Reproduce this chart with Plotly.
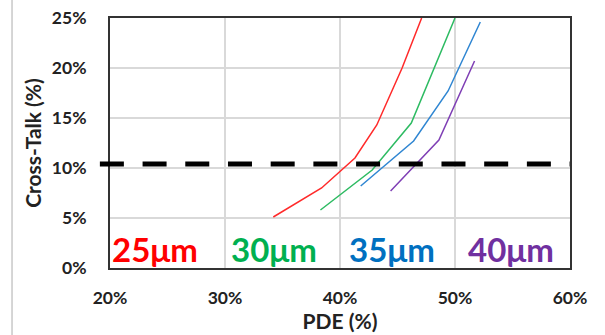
import plotly.graph_objects as go

# Photon detection efficiency (%) vs optical cross-talk (%) per cell pitch
pde_25um = [34.2, 38.4, 41.3, 43.2, 45.4, 47.1]
ct_25um = [5.1, 8.0, 11.0, 14.3, 20.0, 25.0]

pde_30um = [38.3, 42.8, 46.2, 50.0]
ct_30um = [5.8, 9.8, 14.5, 25.0]

pde_35um = [41.8, 46.4, 49.4, 52.2]
ct_35um = [8.2, 12.7, 17.7, 24.6]

pde_40um = [44.4, 48.6, 51.7]
ct_40um = [7.7, 12.8, 20.7]

pitch_labels = ["25μm", "30μm", "35μm", "40μm"]
line_colors = ["#FF2A2A", "#2DBB62", "#2F86D2", "#7F3FB5"]
text_colors = ["#FF0000", "#00B050", "#0070C0", "#7030A0"]

# cross-talk limit drawn as the dashed threshold
CT_LIMIT = 10.4

x_ticks = [20, 30, 40, 50, 60]
y_ticks = [0, 5, 10, 15, 20, 25]

series = [
    (pde_25um, ct_25um),
    (pde_30um, ct_30um),
    (pde_35um, ct_35um),
    (pde_40um, ct_40um),
]

fig = go.Figure()
for (xs, ys), name, col in zip(series, pitch_labels, line_colors):
    fig.add_trace(go.Scatter(
        x=xs, y=ys, mode="lines", name=name,
        line=dict(color=col, width=1.5),
        showlegend=False,
    ))

font_family = "Lato, 'Open Sans', sans-serif"

# pitch labels along the bottom of the plot
label_x = [23.9, 34.3, 44.5, 54.9]
for txt, xc, col in zip(pitch_labels, label_x, text_colors):
    fig.add_annotation(
        x=xc, y=1.9, xref="x", yref="y", text=f"<b>{txt}</b>",
        showarrow=False, xanchor="center", yanchor="middle",
        font=dict(family=font_family, size=33, color=col),
    )

# dashed cross-talk limit
fig.add_shape(
    type="line", xref="paper", yref="y",
    x0=-0.022, x1=1.0, y0=CT_LIMIT, y1=CT_LIMIT,
    line=dict(color="black", width=5, dash="24px,18.7px"),
    layer="above",
)

# thin frame line at the left edge of the slide
fig.add_shape(
    type="line", xref="paper", yref="paper",
    x0=-0.213, x1=-0.213, y0=-0.27, y1=1.08,
    line=dict(color="#C8C8C8", width=1.5),
)

fig.update_xaxes(
    range=[20, 60], tickvals=x_ticks, ticktext=[f"<b>{v}%</b>" for v in x_ticks],
    showgrid=True, gridcolor="#D9D9D9", gridwidth=1.5,
    showline=True, linecolor="#333333", linewidth=2, mirror=True,
    zeroline=False, ticks="", ticklabelstandoff=13, automargin=False,
    tickfont=dict(family=font_family, size=17.5, color="#222222"),
    title=dict(text="<b>PDE (%)</b>", standoff=5,
               font=dict(family=font_family, size=21, color="#222222")),
)
fig.update_yaxes(
    range=[0, 25], tickvals=y_ticks, ticktext=[f"<b>{v}%</b>" for v in y_ticks],
    showgrid=True, gridcolor="#D9D9D9", gridwidth=1.5,
    showline=True, linecolor="#333333", linewidth=2, mirror=True,
    zeroline=False, ticks="", ticklabelstandoff=18, automargin=False,
    tickfont=dict(family=font_family, size=17.5, color="#222222"),
    title=dict(text="<b>Cross-Talk (%)</b>", standoff=4,
               font=dict(family=font_family, size=21, color="#222222")),
)

fig.update_layout(
    width=605, height=335,
    margin=dict(l=110, r=35, t=18, b=67),
    paper_bgcolor="white", plot_bgcolor="white",
)

fig.write_html("out.html")
